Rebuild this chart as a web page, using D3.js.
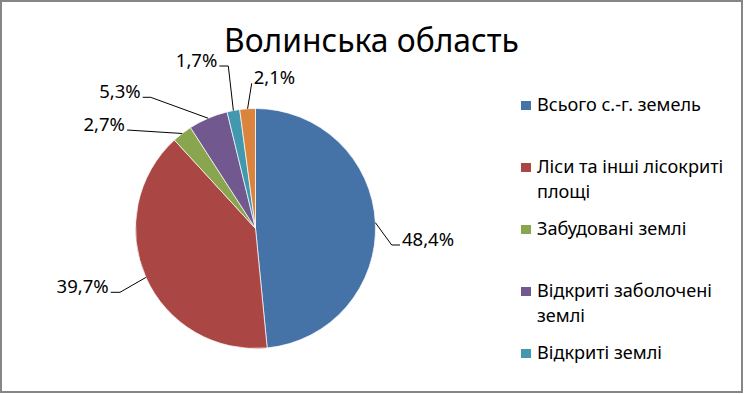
<!DOCTYPE html>
<html>
<head>
<meta charset="utf-8">
<script src="https://cdn.jsdelivr.net/npm/d3@7"></script>
<style>
  html, body { margin: 0; padding: 0; background: #fff; }
  svg { display: block; font-family: "Noto Sans", "DejaVu Sans", sans-serif; }
</style>
</head>
<body>
<script>
// data
const categories = [
    'Всього с.-г. земель',
    'Ліси та інші лісокриті площі',
    'Забудовані землі',
    'Відкриті заболочені землі',
    'Відкриті землі',
    'Поверхневі води'
];
const shares = [48.4, 39.7, 2.7, 5.3, 1.7, 2.1];
const colours = ['#4572A7', '#AA4643', '#89A54E', '#71588F', '#4198AF', '#DB843D'];
const title = 'Волинська область';

const width = 744;
const height = 394;
const cx = 255.5, cy = 228.5, radius = 120;
const frameBottom = 391;

// where Excel put the data labels: knee of the leader, end of the leader, text side
const labelLayout = [
    { knee: [391.7, 245], end: [400, 245], side: 'right' },
    { knee: [120, 292.3], end: [110.7, 292.3], side: 'left' },
    { knee: [127, 130], end: [127, 130], side: 'left' },
    { knee: [150.7, 97.3], end: [142.7, 97.3], side: 'left' },
    { knee: [228.3, 66], end: [219.3, 66], side: 'left' },
    { knee: [251.7, 83.3], end: [251.7, 83.3], side: 'right' }
];

const fmt = d3.format('.1f');
const pctText = (v) => fmt(v).replace('.', ',') + '%';

const svg = d3.select('body')
    .append('svg')
    .attr('width', width)
    .attr('height', height);

const chart = svg.append('g');

// scale font so text spans the measured width
function fitWidth(sel, target) {
    const w = sel.node().getComputedTextLength();
    const fs = parseFloat(sel.attr('font-size'));
    sel.attr('font-size', fs * target / w);
}

// title
const t = chart.append('text')
    .attr('x', 224)
    .attr('y', 52)
    .attr('font-size', 32)
    .attr('fill', '#000')
    .text(title);
fitWidth(t, 295);

// the pie
const pie = d3.pie().sort(null).value((d) => d)
    .startAngle(0).endAngle(2 * Math.PI);
const arc = d3.arc().innerRadius(0).outerRadius(radius);
const arcs = pie(shares);

const pieG = chart.append('g').attr('transform', `translate(${cx}, ${cy})`);
pieG.selectAll('path')
    .data(arcs)
    .enter()
    .append('path')
    .attr('d', arc)
    .attr('fill', (d, i) => colours[i])
    .attr('stroke', '#fff')
    .attr('stroke-width', 0.7);

// leader lines and labels
const edge = d3.arc().innerRadius(radius).outerRadius(radius);
arcs.forEach((d, i) => {
    const p = edge.centroid(d);
    const lay = labelLayout[i];
    chart.append('polyline')
        .attr('points', [[cx + p[0], cy + p[1]], lay.knee, lay.end].map((q) => q.join(',')).join(' '))
        .attr('fill', 'none')
        .attr('stroke', '#000')
        .attr('stroke-width', 1);
    chart.append('text')
        .attr('x', lay.side == 'right' ? lay.end[0] + 2 : lay.end[0] - 2)
        .attr('y', lay.end[1] + 0.5)
        .attr('text-anchor', lay.side == 'right' ? 'start' : 'end')
        .attr('font-size', 18.5)
        .attr('fill', '#000')
        .text(pctText(shares[i]));
});

// legend
const legend = chart.append('g');
const probe = legend.append('text').attr('font-size', 16).text(categories[0]);
fitWidth(probe, 164);
const legendFs = parseFloat(probe.attr('font-size'));
probe.remove();

function wrap(str, maxW) {
    const words = str.split(' ');
    const lines = [];
    let cur = '';
    const m = legend.append('text').attr('font-size', legendFs);
    words.forEach((w) => {
        const test = cur ? cur + ' ' + w : w;
        m.text(test);
        if (m.node().getComputedTextLength() > maxW && cur) {
            lines.push(cur);
            cur = w;
        } else {
            cur = test;
        }
    });
    lines.push(cur);
    m.remove();
    return lines;
}

// the legend runs out of room: entries past the frame are not drawn (as in Excel)
categories.forEach((name, i) => {
    const top = 101 + i * 62;
    if (top + 12 > frameBottom) return;
    legend.append('rect')
        .attr('x', 521).attr('y', top)
        .attr('width', 10).attr('height', 9)
        .attr('fill', colours[i]);
    const txt = legend.append('text')
        .attr('x', 537)
        .attr('y', top + 10)
        .attr('font-size', legendFs)
        .attr('fill', '#000');
    wrap(name, 195).forEach((line, k) => {
        txt.append('tspan')
            .attr('x', 537)
            .attr('dy', k == 0 ? 0 : 25)
            .text(line);
    });
});

// chart area border
svg.append('rect')
    .attr('x', 1).attr('y', 1)
    .attr('width', 741).attr('height', 391)
    .attr('fill', 'none')
    .attr('stroke', '#868686')
    .attr('stroke-width', 2);
</script>
</body>
</html>
